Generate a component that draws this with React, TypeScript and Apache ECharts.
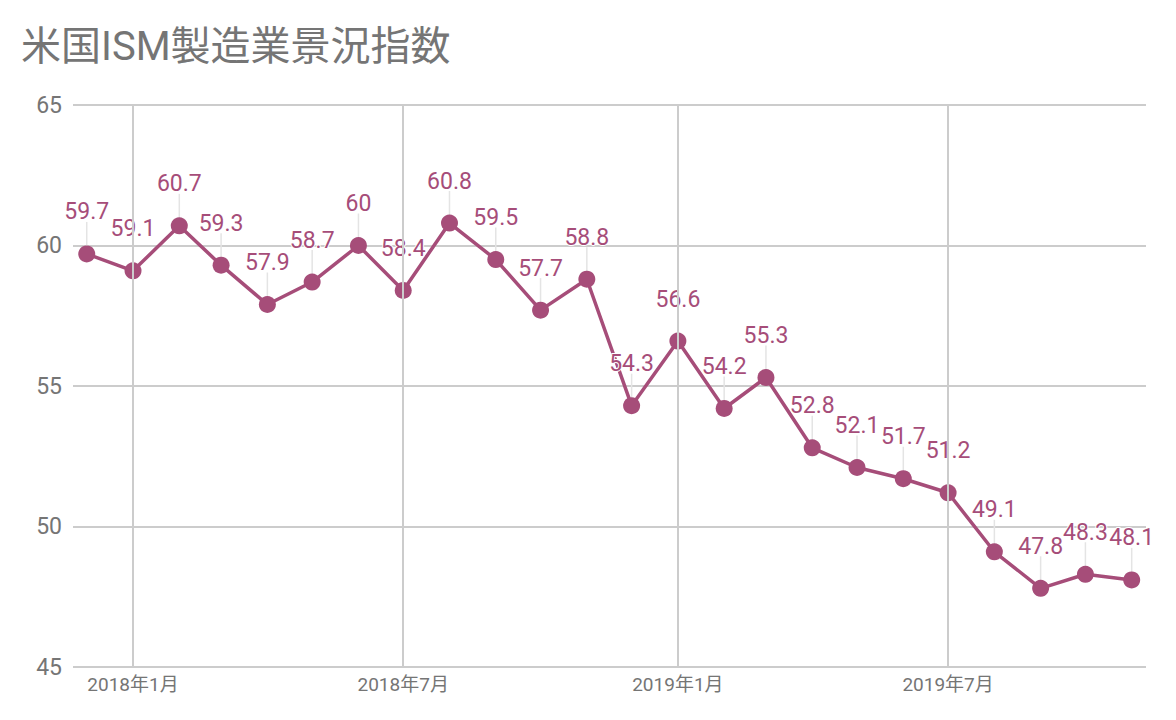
import React, { useEffect, useRef } from "react";
import * as echarts from "echarts";

const months = [
  "2017-12-01", "2018-01-01", "2018-02-01", "2018-03-01", "2018-04-01", "2018-05-01",
  "2018-06-01", "2018-07-01", "2018-08-01", "2018-09-01", "2018-10-01", "2018-11-01",
  "2018-12-01", "2019-01-01", "2019-02-01", "2019-03-01", "2019-04-01", "2019-05-01",
  "2019-06-01", "2019-07-01", "2019-08-01", "2019-09-01", "2019-10-01", "2019-11-01",
];
const ismValues = [
  59.7, 59.1, 60.7, 59.3, 57.9, 58.7, 60, 58.4, 60.8, 59.5, 57.7, 58.8,
  54.3, 56.6, 54.2, 55.3, 52.8, 52.1, 51.7, 51.2, 49.1, 47.8, 48.3, 48.1,
];
const tickDates = ["2018-01-01", "2018-07-01", "2019-01-01", "2019-07-01"];
const tickLabels = ["2018年1月", "2018年7月", "2019年1月", "2019年7月"];

const FONT = 'Roboto, "Noto Sans CJK JP", sans-serif';
const COLOR = "#a64d79";

const toTs = (d: string) => Date.UTC(+d.slice(0, 4), +d.slice(5, 7) - 1, +d.slice(8, 10));

export default function App() {
  const ref = useRef<HTMLDivElement>(null);
  useEffect(() => {
    if (!ref.current) return;
    const chart = echarts.init(ref.current, null, { renderer: "svg" });
    const data = months.map((m, i) => [toTs(m), ismValues[i]]);
    const tickTs = tickDates.map(toTs);
    chart.setOption({
      animation: false,
      textStyle: { fontFamily: FONT },
      title: {
        text: "米国ISM製造業景況指数",
        left: 8,
        top: 13,
        textStyle: { fontFamily: FONT, fontSize: 40, fontWeight: "normal", color: "#757575" },
      },
      grid: { left: 65, right: 22, top: 97, bottom: 45 },
      xAxis: {
        type: "value",
        min: toTs("2017-11-21") + 19 * 3600 * 1000,
        max: toTs("2019-11-10") + 14 * 3600 * 1000,
        axisLine: { show: false },
        axisTick: { show: false },
        splitLine: { show: false },
        axisLabel: {
          customValues: tickTs,
          color: "#757575",
          fontFamily: FONT,
          fontSize: 19,
          margin: 8,
          formatter: (v: number) => {
            const i = tickTs.indexOf(v);
            return i >= 0 ? tickLabels[i] : "";
          },
        },
      },
      yAxis: {
        type: "value",
        min: 45,
        max: 65,
        interval: 5,
        axisLine: { show: false },
        axisTick: { show: false },
        splitLine: { lineStyle: { color: "#cccccc", width: 2 } },
        axisLabel: { color: "#757575", fontFamily: FONT, fontSize: 23, margin: 11 },
      },
      series: [
        {
          type: "custom",
          z: 1,
          silent: true,
          encode: { x: 0, y: 1 },
          data,
          renderItem: (params: any, api: any) => {
            const p = api.coord([api.value(0), api.value(1)]);
            return {
              type: "line",
              shape: { x1: p[0], y1: p[1] - 32, x2: p[0], y2: p[1] },
              style: { stroke: "#e4e4e4", lineWidth: 1.5 },
            };
          },
          markLine: {
            silent: true,
            symbol: ["none", "none"],
            label: { show: false },
            lineStyle: { color: "#cccccc", type: "solid", width: 2 },
            data: tickTs.map((t) => ({ xAxis: t })),
          },
        },
        {
          type: "line",
          z: 3,
          data,
          symbol: "circle",
          symbolSize: 17,
          lineStyle: { color: COLOR, width: 3.5 },
          itemStyle: { color: COLOR },
          label: {
            show: true,
            position: "top",
            distance: 22,
            color: COLOR,
            fontFamily: FONT,
            fontSize: 23,
            textBorderColor: "#ffffff",
            textBorderWidth: 2,
            formatter: (p: any) => String(p.value[1]),
          },
        },
      ],
    });
    return () => chart.dispose();
  }, []);
  return <div ref={ref} style={{ width: 1160, height: 704 }} />;
}
